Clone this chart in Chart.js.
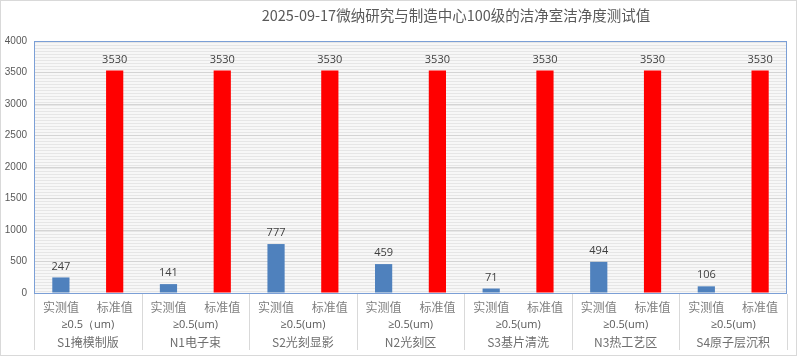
<!DOCTYPE html>
<html>
<head>
<meta charset="utf-8">
<script src="https://cdn.jsdelivr.net/npm/chart.js@4/dist/chart.umd.min.js"></script>
<style>
html,body{margin:0;padding:0;background:#fff;}
#wrap{width:799px;height:357px;}
</style>
</head>
<body>
<div id="wrap"><canvas id="c" width="799" height="357"></canvas></div>
<script>
const chartTitle = '2025-09-17微纳研究与制造中心100级的洁净室洁净度测试值';
const groupNames = ['S1掩模制版','N1电子束','S2光刻显影','N2光刻区','S3基片清洗','N3热工艺区','S4原子层沉积'];
const sizeLabels = ['≥0.5（um)','≥0.5(um)','≥0.5(um)','≥0.5(um)','≥0.5(um)','≥0.5(um)','≥0.5(um)'];
const pairLabels = ['实测值','标准值'];
const measured = [247,141,777,459,71,494,106];
const standard = [3530,3530,3530,3530,3530,3530,3530];
const yTicks = [0,500,1000,1500,2000,2500,3000,3500,4000];

const labels = [];
const measuredData = [];
const standardData = [];
groupNames.forEach((g,i)=>{
  labels.push(pairLabels[0]); measuredData.push(measured[i]); standardData.push(null);
  labels.push(pairLabels[1]); measuredData.push(null); standardData.push(standard[i]);
});

const cnFont = '"Noto Sans CJK SC", "Noto Sans", sans-serif';
const numFont = '"Open Sans", "Liberation Sans", sans-serif';
const axisFont = '"Liberation Sans", "Open Sans", sans-serif';

const decor = {
  id:'decor',
  beforeDraw(chart){
    const ctx = chart.ctx, a = chart.chartArea;
    ctx.save();
    ctx.fillStyle = '#ffffff';
    ctx.fillRect(0,0,chart.width,chart.height);
    const pc = document.createElement('canvas');
    pc.width = 4; pc.height = 3;
    const p = pc.getContext('2d');
    p.fillStyle = '#f7f7f7'; p.fillRect(0,0,4,3);
    p.fillStyle = '#e6e6e6'; p.fillRect(0,0,4,1);
    ctx.fillStyle = ctx.createPattern(pc,'repeat');
    ctx.fillRect(a.left,a.top,a.right-a.left,a.bottom-a.top);
    ctx.restore();
  },
  afterDraw(chart){
    const ctx = chart.ctx, a = chart.chartArea;
    ctx.save();
    ctx.strokeStyle = '#7b9fd6';
    ctx.lineWidth = 1;
    ctx.strokeRect(Math.round(a.left)+0.5, Math.round(a.top)+0.5, Math.round(a.right-a.left)-1, Math.round(a.bottom-a.top));
    const cw = (a.right - a.left) / labels.length;
    ctx.strokeStyle = '#d9d9d9';
    for(let k=0;k<=groupNames.length;k++){
      const px = Math.round(a.left + k*2*cw) + 0.5;
      ctx.beginPath(); ctx.moveTo(px, a.bottom+1); ctx.lineTo(px, 350); ctx.stroke();
    }
    ctx.textAlign = 'center'; ctx.textBaseline = 'middle';
    groupNames.forEach((g,i)=>{
      const cx = a.left + (2*i+1)*cw;
      ctx.fillStyle = '#595959';
      ctx.font = '11px ' + numFont;
      ctx.fillText(sizeLabels[i], cx, 325);
      ctx.fillStyle = '#6f6f6f';
      ctx.font = '12px ' + cnFont;
      ctx.fillText(g, cx, 342);
    });
    ctx.font = '11px ' + numFont;
    ctx.fillStyle = '#404040';
    chart.data.datasets.forEach((ds,di)=>{
      const meta = chart.getDatasetMeta(di);
      meta.data.forEach((el,j)=>{
        const v = ds.data[j];
        if(v===null || v===undefined) return;
        ctx.fillText(String(v), el.x, el.y - 11);
      });
    });
    ctx.font = '14.5px ' + cnFont;
    ctx.fillStyle = '#595959';
    ctx.fillText(chartTitle, 456, 15);
    ctx.strokeStyle = '#d9d9d9';
    ctx.strokeRect(0.5,0.5,796,355);
    ctx.restore();
  }
};

new Chart(document.getElementById('c'), {
  type:'bar',
  data:{
    labels: labels,
    datasets:[
      {label:'实测值', data: measuredData, backgroundColor:'#4F81BD', stack:'s', categoryPercentage:1, barPercentage:0.32},
      {label:'标准值', data: standardData, backgroundColor:'#FF0000', stack:'s', categoryPercentage:1, barPercentage:0.32}
    ]
  },
  options:{
    responsive:false,
    animation:false,
    devicePixelRatio:1,
    layout:{padding:{left:0, top:41, right:12, bottom:0}},
    plugins:{legend:{display:false}, title:{display:false}, tooltip:{enabled:false}},
    scales:{
      x:{
        stacked:true,
        grid:{display:false, drawTicks:false},
        border:{display:false},
        ticks:{color:'#7f7f7f', font:{family:cnFont, size:12}, padding:7, maxRotation:0, autoSkip:false},
        afterFit(s){ s.height = 64; }
      },
      y:{
        stacked:true,
        min:0, max:4000,
        afterBuildTicks(s){ s.ticks = yTicks.map(v=>({value:v})); },
        grid:{color:'#d4d4d4', drawTicks:false},
        border:{color:'#7b9fd6'},
        ticks:{color:'#595959', font:{family:axisFont, size:10}, padding:7, callback:(v)=>String(v)},
        afterFit(s){ s.width = 34; }
      }
    }
  },
  plugins:[decor]
});
</script>
</body>
</html>
